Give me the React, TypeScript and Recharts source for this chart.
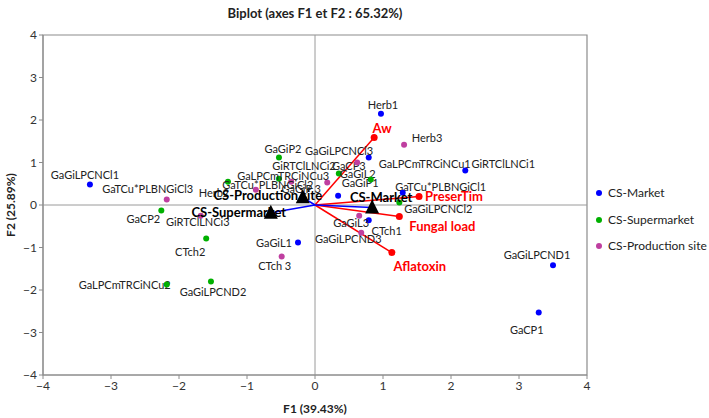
import { ReferenceArea, ReferenceLine, Scatter, ScatterChart, XAxis, YAxis } from "recharts";

// samples, one list per site
const marketNames = ["GaGiLPCNCl1", "Herb1", "GaLPCmTRCiNCu1", "GiRTClLNCi1", "GaTCu*PLBNGiCl1", "GaGiP1", "CTch1", "GaGiL1", "GaGiLPCND1", "GaCP1"];
const marketF1 = [-3.31, 0.97, 0.79, 2.21, 1.29, 0.34, 0.79, -0.25, 3.5, 3.29];
const marketF2 = [0.48, 2.15, 1.12, 0.81, 0.29, 0.22, -0.36, -0.88, -1.42, -2.53];

const superNames = ["GaGiP2", "GiRTClLNCi2", "Herb2", "GaCP3", "GaGiL2", "GaGiLPCNCl2", "GaCP2", "CTch2", "GaLPCmTRCiNCu2", "GaGiLPCND2"];
const superF1 = [-0.53, -0.53, -1.28, 0.35, 0.82, 1.24, -2.26, -1.6, -2.18, -1.53];
const superF2 = [1.12, 0.62, 0.55, 0.74, 0.6, 0.06, -0.13, -0.79, -1.87, -1.8];

const prodNames = ["Herb3", "GaGiLPCNCl3", "GaGiP 3", "GaLPCmTRCiNCu3", "GaTCu*PLBNGiCl2", "GaTCu*PLBNGiCl3", "GiRTClLNCi3", "GaGiL3", "GaGiLPCND3", "CTch 3"];
const prodF1 = [1.31, 0.62, 0.18, -0.35, -0.87, -2.18, -1.68, 0.65, 0.68, -0.49];
const prodF2 = [1.42, 1.0, 0.53, 0.55, 0.36, 0.13, -0.25, -0.25, -0.65, -1.21];

// active variables
const varNames = ["Aw", "PreserTim", "Fungal load", "Aflatoxin"];
const varF1 = [0.87, 1.53, 1.24, 1.13];
const varF2 = [1.59, 0.2, -0.27, -1.12];

// supplementary categories (centroids)
const groupNames = ["CS-Market", "CS-Supermarket", "CS-Production site"];
const groupF1 = [0.84, -0.65, -0.18];
const groupF2 = [-0.06, -0.18, 0.18];
const groupColors = ["#0000ff", "#00b000", "#bf3fa0"];

const axisTicks = [-4, -3, -2, -1, 0, 1, 2, 3, 4];

// label placement relative to the point, in px
const labelOffset: Record<string, [number, number]> = {
  GaGiLPCNCl1: [-5, -10], Herb1: [2, -9], GaLPCmTRCiNCu1: [56, 6], GiRTClLNCi1: [38, -7],
  "GaTCu*PLBNGiCl1": [38, -6], GaGiP1: [22, -13], CTch1: [18, 10], GaGiL1: [-24, 0],
  GaGiLPCND1: [-16, -11], GaCP1: [-12, 17],
  GaGiP2: [4, -9], GiRTClLNCi2: [25, -13], Herb2: [-14, 11], GaCP3: [10, -8], GaGiL2: [-13, -6],
  GaGiLPCNCl2: [39, 6], GaCP2: [-18, 8], CTch2: [-16, 13], GaLPCmTRCiNCu2: [-42, 0], GaGiLPCND2: [2, 10],
  Herb3: [23, -7], GaGiLPCNCl3: [-18, -12], "GaGiP 3": [-26, 6], GaLPCmTRCiNCu3: [-8, -6],
  "GaTCu*PLBNGiCl2": [12, -5], "GaTCu*PLBNGiCl3": [-19, -11], GiRTClLNCi3: [-3, 6], GaGiL3: [-8, 7],
  GaGiLPCND3: [-13, 6], "CTch 3": [-7, 9],
  Aw: [8, -9], PreserTim: [35, -1], "Fungal load": [43, 10], Aflatoxin: [28, 13],
  "CS-Market": [9, -11], "CS-Supermarket": [-32, -1], "CS-Production site": [-35, -2],
};

const toPoints = (names: string[], xs: number[], ys: number[]) =>
  names.map((name, i) => ({ name, x: xs[i], y: ys[i] }));

const market = toPoints(marketNames, marketF1, marketF2);
const supermarket = toPoints(superNames, superF1, superF2);
const production = toPoints(prodNames, prodF1, prodF2);
const variables = toPoints(varNames, varF1, varF2);
const groups = toPoints(groupNames, groupF1, groupF2);

const FONT = "Lato, 'Open Sans', sans-serif";

const sampleShape = (color: string) => (props: any) => {
  const { cx, cy, payload } = props;
  const [dx, dy] = labelOffset[payload.name] ?? [0, -10];
  return (
    <g>
      <text x={cx + dx} y={cy + dy} textAnchor="middle" dominantBaseline="central" fontSize={11} fontFamily={FONT} fill="#222">
        {payload.name}
      </text>
      <circle cx={cx} cy={cy} r={3} fill={color} />
    </g>
  );
};

const varShape = (props: any) => {
  const { cx, cy, payload } = props;
  const [dx, dy] = labelOffset[payload.name] ?? [0, -10];
  return (
    <g>
      <circle cx={cx} cy={cy} r={3.5} fill="#ff0000" />
      <text x={cx + dx} y={cy + dy} textAnchor="middle" dominantBaseline="central" fontSize={13} fontWeight="bold" fontFamily={FONT} fill="#ff0000">
        {payload.name}
      </text>
    </g>
  );
};

const groupShape = (props: any) => {
  const { cx, cy, payload } = props;
  const [dx, dy] = labelOffset[payload.name] ?? [0, -10];
  return (
    <g>
      <polygon points={`${cx},${cy - 8} ${cx - 7},${cy + 6} ${cx + 7},${cy + 6}`} fill="#000" />
      <text x={cx + dx} y={cy + dy} textAnchor="middle" dominantBaseline="central" fontSize={13} fontWeight="bold" fontFamily={FONT} fill="#000">
        {payload.name}
      </text>
    </g>
  );
};

const fmt = (v: number) => (v < 0 ? `\u2212${Math.abs(v)}` : `${v}`);

export default function App() {
  return (
    <div style={{ position: "absolute", left: 0, top: 0, width: 709, height: 418, background: "#fff", fontFamily: FONT }}>
      <ScatterChart width={709} height={418} margin={{ top: 35, right: 122, bottom: 13, left: 13 }}>
        <XAxis
          type="number"
          dataKey="x"
          domain={[-4, 4]}
          ticks={axisTicks}
          tickFormatter={fmt}
          height={30}
          tickSize={4}
          stroke="#8c8c8c"
          tick={{ fill: "#333", fontSize: 12, fontFamily: FONT }}
          allowDataOverflow
        />
        <YAxis
          type="number"
          dataKey="y"
          domain={[-4, 4]}
          ticks={axisTicks}
          tickFormatter={fmt}
          width={30}
          tickSize={4}
          stroke="#8c8c8c"
          tick={{ fill: "#333", fontSize: 12, fontFamily: FONT }}
          allowDataOverflow
        />
        <ReferenceArea x1={-4} x2={4} y1={-4} y2={4} fill="none" stroke="#8c8c8c" strokeWidth={1.2} />
        <ReferenceLine x={0} stroke="#9a9a9a" />
        <ReferenceLine y={0} stroke="#9a9a9a" />
        <Scatter data={market} fill={groupColors[0]} shape={sampleShape(groupColors[0])} isAnimationActive={false} />
        <Scatter data={supermarket} fill={groupColors[1]} shape={sampleShape(groupColors[1])} isAnimationActive={false} />
        <Scatter data={production} fill={groupColors[2]} shape={sampleShape(groupColors[2])} isAnimationActive={false} />
        {variables.map((v) => (
          <ReferenceLine key={v.name} segment={[{ x: 0, y: 0 }, { x: v.x, y: v.y }]} stroke="#ff0000" strokeWidth={1.5} />
        ))}
        {groups.map((g) => (
          <ReferenceLine key={g.name} segment={[{ x: 0, y: 0 }, { x: g.x, y: g.y }]} stroke="#0000ff" strokeWidth={1.5} />
        ))}
        <Scatter data={variables} fill="#ff0000" shape={varShape} isAnimationActive={false} />
        <Scatter data={groups} fill="#000" shape={groupShape} isAnimationActive={false} />
      </ScatterChart>
      <svg width={709} height={418} style={{ position: "absolute", left: 0, top: 0, pointerEvents: "none" }}>
        <text x={315} y={13} textAnchor="middle" dominantBaseline="central" fontSize={13} fontWeight="bold" fontFamily={FONT} fill="#222">
          Biplot (axes F1 et F2 : 65.32%)
        </text>
        <text x={315} y={408} textAnchor="middle" dominantBaseline="central" fontSize={12} fontWeight="bold" fontFamily={FONT} fill="#222">
          F1 (39.43%)
        </text>
        <text x={10} y={205} textAnchor="middle" dominantBaseline="central" fontSize={12} fontWeight="bold" fontFamily={FONT} fill="#222" transform="rotate(-90 10 205)">
          F2 (25.89%)
        </text>
      </svg>
      <div style={{ position: "absolute", left: 595, top: 180, fontSize: 12, color: "#222", lineHeight: "26.5px" }}>
        {groupNames.map((n, i) => (
          <div key={n} style={{ display: "flex", alignItems: "center", whiteSpace: "nowrap" }}>
            <span style={{ width: 6, height: 6, borderRadius: 3, background: groupColors[i], marginRight: 6, marginLeft: 1 }} />
            {n}
          </div>
        ))}
      </div>
    </div>
  );
}
